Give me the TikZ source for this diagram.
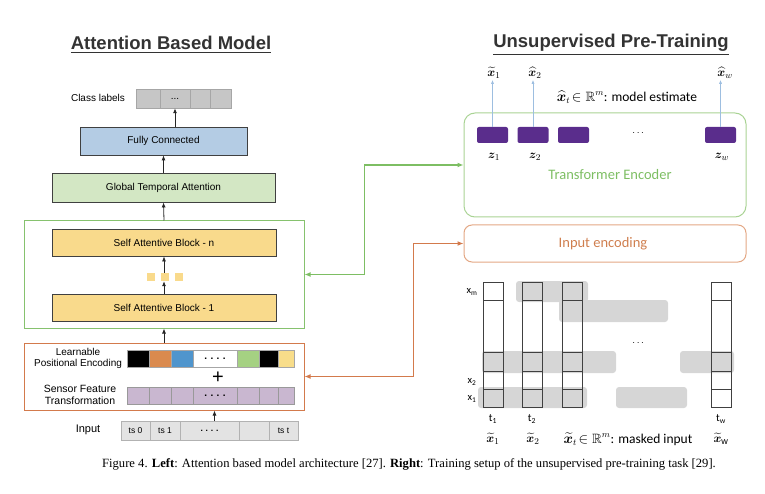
\documentclass[tikz,border=0pt]{standalone}
\usepackage{fontspec}
\usepackage{amsmath}
\usepackage{amssymb}
\usepackage{bm}
\setmainfont{Liberation Sans}
\newfontfamily\calibri{Carlito}
\newfontfamily\timesfont{Liberation Serif}
\usetikzlibrary{arrows.meta}

\definecolor{fcblue}{HTML}{B4CCE4}
\definecolor{gtagreen}{HTML}{D3E7C4}
\definecolor{sabyellow}{HTML}{F9DA8C}
\definecolor{framegreen}{HTML}{86C26E}
\definecolor{frameorange}{HTML}{D37A4C}
\definecolor{peorange}{HTML}{DA8A4E}
\definecolor{peblue}{HTML}{4F95CD}
\definecolor{pegreen}{HTML}{A5D182}
\definecolor{peyellow}{HTML}{F8DD8A}
\definecolor{sfpurple}{HTML}{C9B7D0}
\definecolor{zpurple}{HTML}{5A2D8C}
\definecolor{encgreen}{HTML}{A9D394}
\definecolor{encorange}{HTML}{E3A784}
\definecolor{txtgreen}{HTML}{7DBE63}
\definecolor{txtorange}{HTML}{CF7E4E}
\definecolor{estblue}{HTML}{9DBEE0}
\definecolor{titlegray}{HTML}{333333}

\tikzset{
  blockbox/.style={draw=black!75, line width=0.8pt, inner sep=0pt, minimum height=27pt},
  cell/.style={draw=gray!70, line width=0.5pt, inner sep=0pt, minimum height=17pt},
  tscell/.style={draw=gray!60, fill=gray!22, line width=0.5pt, inner sep=0pt, minimum height=19pt,
    font=\fontsize{8.5}{10}\selectfont},
  arr/.style={-{Latex[length=5pt,width=4pt]}, line width=0.8pt, black!85},
  zbox/.style={fill=zpurple, rounded corners=2pt, minimum width=31pt, minimum height=16pt, inner sep=0pt},
  band/.style={fill=gray!32, rounded corners=3pt},
  colline/.style={draw=black!75, line width=0.7pt},
  mathlbl/.style={font=\fontsize{13}{15}\selectfont, inner sep=1pt},
  small/.style={font=\calibri\fontsize{10.5}{12}\selectfont, inner sep=1pt}
}

\begin{document}
\begin{tikzpicture}[x=1pt,y=-1pt, every node/.style={font=\fontsize{10}{12}\selectfont}]
    \useasboundingbox (0,0) rectangle (765,494);

    % left: attention based model
    \node[text=titlegray, font=\fontsize{18.5}{20}\selectfont\bfseries] (lefttitle) at (171,45) {\underline{Attention Based Model}};

    \node (classtxt) at (98,98) {Class labels};
    \foreach \a/\b/\t [count=\i] in {136/160/{}, 160/190/{...}, 190/210/{}, 210/231/{}}
        \node[cell, fill=gray!45, minimum height=19pt, minimum width={(\b-\a)*1pt}] (cl\i) at ({(\a+\b)/2},98.5) {\t};

    \node[blockbox, fill=fcblue, minimum width=167pt, minimum height=28pt] (fc) at (163.5,141) {Fully Connected};
    \node[blockbox, fill=gtagreen, minimum width=223pt, minimum height=29pt] (gta) at (163.5,187.5) {Global Temporal Attention};

    \node[draw=framegreen, line width=1pt, minimum width=280pt, minimum height=107pt, inner sep=0pt] (greenbox) at (164,274.5) {};
    \node[blockbox, fill=sabyellow, minimum width=224pt] (sabn) at (164,242.5) {Self Attentive Block - n};
    \node[blockbox, fill=sabyellow, minimum width=224pt] (sab1) at (164,307.5) {Self Attentive Block - 1};
    \foreach \x [count=\i] in {151,165,179}
        \node[fill=sabyellow, minimum size=8pt, inner sep=0pt] (sq\i) at (\x,277) {};

    \node[draw=frameorange, line width=1pt, minimum width=280pt, minimum height=67pt, inner sep=0pt] (orangebox) at (164,376.5) {};
    \node[align=center, font=\fontsize{10}{11.5}\selectfont] (petxt) at (78,358.5) {Learnable\\Positional Encoding};
    \node[align=center, font=\fontsize{10.5}{12}\selectfont] (sftxt) at (80,395) {Sensor Feature\\Transformation};
    \foreach \a/\b/\c/\t [count=\i] in {127/149/black/{}, 149/171/peorange/{}, 171/193/peblue/{},
            193/237/white/{\bfseries.\,\,.\,\,.\,\,.}, 237/259/pegreen/{}, 259/278/black/{}, 278/294/peyellow/{}}
        \node[cell, fill=\c, minimum width={(\b-\a)*1pt}] (pe\i) at ({(\a+\b)/2},358.5) {\t};
    \node[font=\fontsize{20}{20}\selectfont] (plus) at (218,377.5) {+};
    \foreach \a/\b/\t [count=\i] in {127/149/{}, 149/171/{}, 171/193/{}, 193/237/{\bfseries.\,\,.\,\,.\,\,.},
            237/259/{}, 259/278/{}, 278/294/{}}
        \node[cell, draw=gray!80, fill=sfpurple, minimum width={(\b-\a)*1pt}] (sf\i) at ({(\a+\b)/2},395.5) {\t};

    \node[font=\fontsize{11}{13}\selectfont] (inputtxt) at (88,430) {Input};
    \foreach \a/\b/\t [count=\i] in {121/150/{ts 0}, 150/180/{ts 1}, 180/239/{\bfseries.\,\,.\,\,.\,\,.}, 239/269/{}, 269/298/{ts t}}
        \node[tscell, minimum width={(\b-\a)*1pt}] (ts\i) at ({(\a+\b)/2},430.5) {\t};

    \draw[arr] (fc.north -| cl2.south) -- (cl2.south);
    \draw[arr] (gta.north) -- (fc.south);
    \draw[arr] (greenbox.north) -- (gta.south);
    \draw[arr] (sq2.north -| sabn.south) -- (sabn.south);
    \draw[arr] (sab1.north) -- (sq2.south -| sab1.north);
    \draw[arr] (orangebox.north) -- (greenbox.south);
    \draw[arr] (ts3.north) ++(5,0) -- (orangebox.south -| 214.5,0);

    % right: unsupervised pre-training
    \node[text=titlegray, font=\fontsize{18.5}{20}\selectfont\bfseries] (righttitle) at (611,45) {\underline{Unsupervised Pre-Training}};

    \node[draw=encgreen, line width=1pt, rounded corners=11pt, minimum width=282pt, minimum height=104pt] (encoder) at (605,165) {};
    \node[text=txtgreen, font=\calibri\fontsize{14.5}{16}\selectfont] (enctxt) at (610,175) {Transformer Encoder};
    \node[zbox] (z1) at (492.5,135) {};
    \node[zbox] (z2) at (533,135) {};
    \node[zbox] (z3) at (573.5,135) {};
    \node[zbox] (zw) at (720.5,135) {};
    \node (zdots) at (639,133) {$\cdots$};
    \node[mathlbl] (zl1) at (494,157) {$\bm{z}_1$};
    \node[mathlbl] (zl2) at (535,157) {$\bm{z}_2$};
    \node[mathlbl] (zlw) at (722,157) {$\bm{z}_w$};

    \node[mathlbl] (xh1) at (494,73) {$\widetilde{\bm{x}}_1$};
    \node[mathlbl] (xh2) at (535,73) {$\widehat{\bm{x}}_2$};
    \node[mathlbl] (xhw) at (725,73) {$\widehat{\bm{x}}_w$};
    \node[font=\calibri\fontsize{13.5}{15}\selectfont, inner sep=1pt] (esttxt) at (627,97) {$\widehat{\bm{x}}_t\!\in\mathbb{R}^m$: model estimate};
    \foreach \z/\l in {z1/xh1, z2/xh2, zw/xhw}
        \draw[-{Latex[length=4pt,width=3pt]}, estblue, line width=0.7pt] (\z.north) -- (\z.north |- \l.south);

    \node[draw=encorange, line width=1pt, rounded corners=8pt, minimum width=282pt, minimum height=37pt] (inenc) at (605,243.5) {};
    \node[text=txtorange, font=\calibri\fontsize{14.5}{16}\selectfont] (inenctxt) at (603,243.5) {Input encoding};

    % masked input
    \foreach \xa/\ya/\xb/\yb in {516/281/588/302, 559/300/668/322, 482/351/616/373,
            680/351/734/373, 478/387/587/408, 616/387/687/408}
        \fill[band] (\xa,\ya) rectangle (\xb,\yb);
    \foreach \c in {483,522,562,711} {
        \foreach \a/\b in {282/300,300/352,352/371,371/389,389/407}
            \draw[colline] (\c,\a) rectangle ++(20,\b-\a);
    }
    \node[small] (xm) at (472,292) {x\textsubscript{m}};
    \node[small] (x2) at (472,382) {x\textsubscript{2}};
    \node[small] (x1) at (472,399) {x\textsubscript{1}};
    \node (mdots) at (639,343) {$\cdots$};
    \node[small, font=\calibri\fontsize{11}{13}\selectfont] (t1) at (493,419) {t\textsubscript{1}};
    \node[small, font=\calibri\fontsize{11}{13}\selectfont] (t2) at (532,419) {t\textsubscript{2}};
    \node[small, font=\calibri\fontsize{11}{13}\selectfont] (tw) at (721,419) {t\textsubscript{w}};
    \node[mathlbl] (xt1) at (493,439) {$\widetilde{\bm{x}}_1$};
    \node[mathlbl] (xt2) at (533,439) {$\widetilde{\bm{x}}_2$};
    \node[font=\calibri\fontsize{13.5}{15}\selectfont, inner sep=1pt] (masktxt) at (628,439) {$\widetilde{\bm{x}}_t\!\in\mathbb{R}^m$: masked input};
    \node[mathlbl] (xtw) at (721,439) {$\widetilde{\bm{x}}_{\mathrm{w}}$};

    % connections
    \draw[{Latex[length=6pt,width=5pt]}-{Latex[length=6pt,width=5pt]}, txtgreen, line width=1.3pt]
        (greenbox.east) -- ++(60,0) |- (encoder.west);
    \draw[{Latex[length=6pt,width=5pt]}-{Latex[length=6pt,width=5pt]}, frameorange, line width=1.3pt]
        (orangebox.east) -- ++(109,0) |- (inenc.west);

    \node[font=\timesfont\fontsize{12.6}{15}\selectfont] (caption) at (409,464)
        {Figure 4. \textbf{Left}: Attention based model architecture [27]. \textbf{Right}: Training setup of the unsupervised pre-training task [29].};
\end{tikzpicture}
\end{document}
